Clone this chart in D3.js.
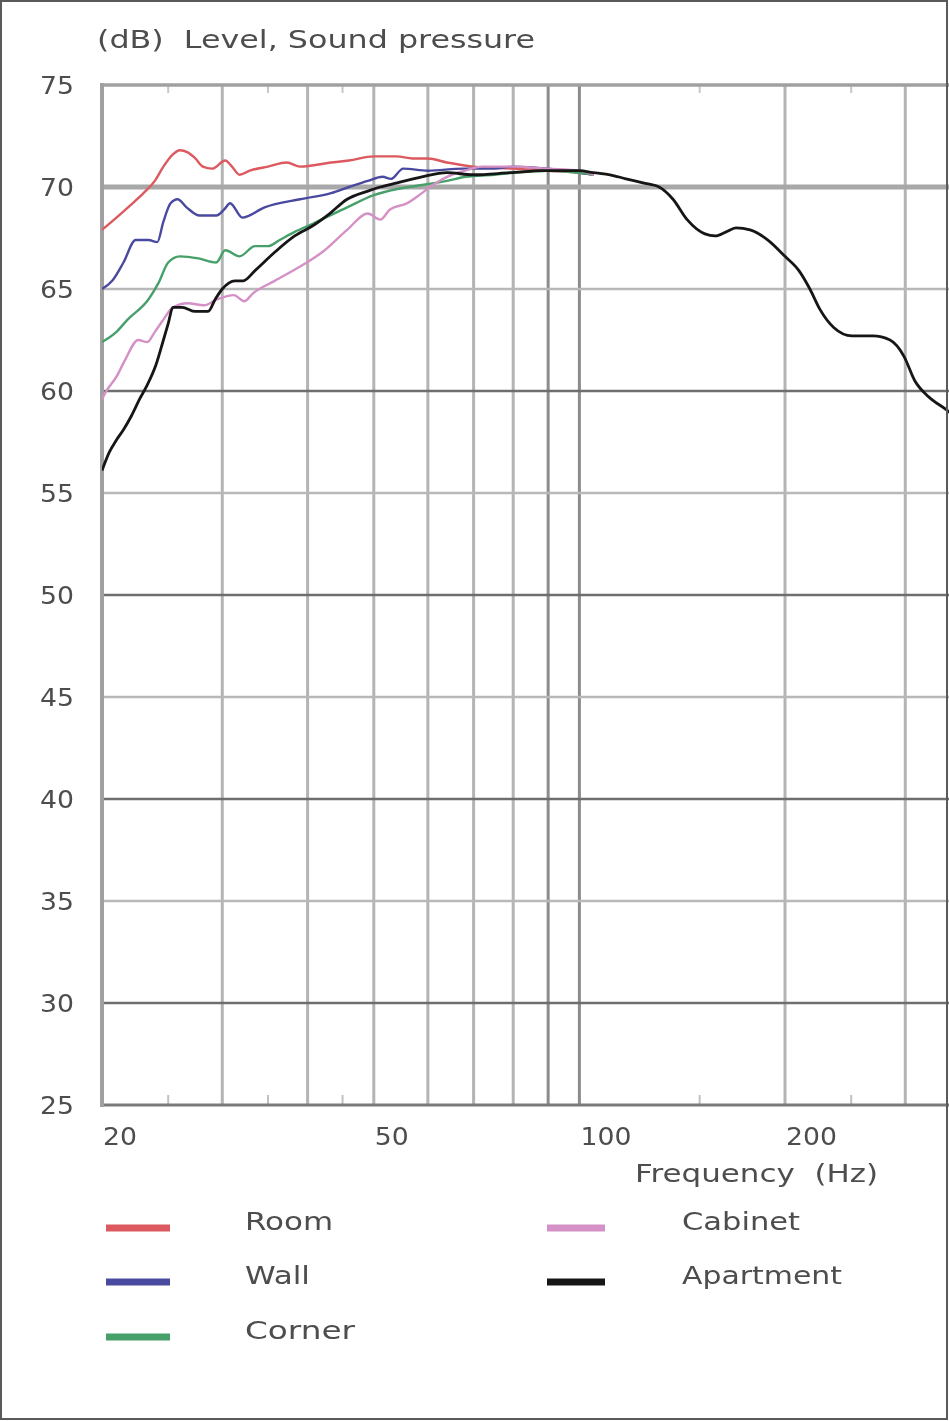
<!DOCTYPE html>
<html>
<head>
<meta charset="utf-8">
<script src="https://cdn.jsdelivr.net/npm/d3@7"></script>
<style>
  body { margin: 0; background: #fff; }
  svg { display: block; }
  text { font-family: "DejaVu Sans", Verdana, sans-serif; fill: #4d4d4d; white-space: pre; }
</style>
</head>
<body>
<div id="vis"></div>
<script>
const width = 949;
const height = 1421;
const margin = { top: 85, right: 0, bottom: 316, left: 102 };

// Tick values / labels
const yTicks = [75, 70, 65, 60, 55, 50, 45, 40, 35, 30, 25];
const xGrid = [30, 40, 50, 60, 70, 80, 90, 100, 200, 300];
const xLabels = [20, 50, 100, 200];
const xMinor = [25, 35, 45, 150, 250];

// Series: [frequency Hz, level dB]
const room = [[20, 67.9], [21, 68.5], [22, 69.1], [23, 69.7], [23.9, 70.3], [24.6, 71.0], [25.4, 71.6],
  [26.0, 71.8], [26.7, 71.7], [27.4, 71.4], [28.1, 71.0], [29.0, 70.9], [30.3, 71.3], [31.0, 71.0],
  [31.8, 70.6], [32.9, 70.8], [35.0, 71.0], [37.3, 71.2], [39.0, 71.0], [43.3, 71.2], [46.0, 71.3],
  [50, 71.5], [54, 71.5], [57, 71.4], [60, 71.4], [64, 71.2], [70, 71.0], [80, 70.9], [90, 70.8],
  [100, 70.7], [105, 70.6]];
const wall = [[20, 65.0], [20.7, 65.4], [21.5, 66.3], [22.4, 67.4], [23.4, 67.4], [24.1, 67.3],
  [24.6, 68.3], [25.2, 69.2], [25.8, 69.4], [26.6, 69.0], [27.8, 68.6], [29.4, 68.6], [30.2, 68.9],
  [30.8, 69.2], [32.1, 68.5], [34.6, 69.0], [39.0, 69.4], [43.3, 69.7], [46.0, 70.0], [49.0, 70.3],
  [51.5, 70.5], [53.0, 70.4], [55.2, 70.9], [60, 70.8], [67.6, 70.9], [75, 70.9], [80, 71.0],
  [90, 70.9], [100, 70.7], [105, 70.6]];
const corner = [[20, 62.4], [21.0, 62.9], [21.8, 63.5], [23.4, 64.5], [24.2, 65.3], [25.0, 66.3],
  [26.0, 66.6], [27.7, 66.5], [29.4, 66.3], [30.3, 66.9], [31.8, 66.6], [33.5, 67.1], [35.0, 67.1],
  [36.4, 67.4], [38.3, 67.8], [40.7, 68.2], [45.7, 69.0], [50, 69.6], [54.1, 69.9], [58.8, 70.1],
  [64, 70.3], [68.2, 70.5], [75, 70.6], [80, 70.7], [90, 70.8], [100, 70.7], [105, 70.6]];
const cabinet = [[20, 59.6], [20.3, 60.0], [21.0, 60.7], [21.6, 61.5], [22.6, 62.5], [23.3, 62.4],
  [23.9, 62.9], [24.6, 63.5], [25.4, 64.1], [26.7, 64.3], [28.2, 64.2], [29.5, 64.5], [31.2, 64.7],
  [32.3, 64.4], [33.3, 64.8], [35.8, 65.4], [39.0, 66.1], [42.0, 66.8], [45.7, 67.9], [49.0, 68.7],
  [51.1, 68.4], [52.8, 68.9], [55.9, 69.2], [58.8, 69.7], [61, 70.1], [64, 70.5], [68, 70.8],
  [72, 71.0], [80, 71.0], [90, 70.9], [100, 70.8], [105, 70.6]];
const apartment = [[20, 56.1], [20.5, 57.0], [21.0, 57.6], [21.5, 58.1], [22.1, 58.8], [22.7, 59.6],
  [23.3, 60.3], [24.0, 61.3], [24.6, 62.5], [25.0, 63.3], [25.4, 64.1], [26.2, 64.1], [27.4, 63.9],
  [28.6, 63.9], [29.3, 64.5], [30.0, 65.0], [31.3, 65.4], [32.2, 65.4], [33.5, 65.9], [35.8, 66.8],
  [38.3, 67.6], [40.7, 68.1], [43.1, 68.7], [45.7, 69.4], [49.0, 69.8], [51.1, 70.0], [54.1, 70.2],
  [58.8, 70.5], [64, 70.7], [69.9, 70.6], [79.1, 70.7], [89, 70.8], [100, 70.8], [104.7, 70.7],
  [110.9, 70.6], [117, 70.4], [123.9, 70.2], [130.8, 70.0], [137.1, 69.4], [143.8, 68.4],
  [152.7, 67.7], [158, 67.6], [164, 67.8], [169.5, 68.0], [177.8, 67.9], [188.8, 67.4], [200, 66.6],
  [209.6, 65.9], [217.5, 65.0], [225, 64.0], [235.9, 63.1], [250.6, 62.7], [269, 62.7], [284.9, 62.5],
  [298.7, 61.7], [309.8, 60.5], [325, 59.7], [344, 59.1], [350, 58.9]];

const seriesNames = ["Room", "Wall", "Corner", "Cabinet", "Apartment"];
const seriesData = [room, wall, corner, cabinet, apartment];
const colors = ["#dc5a5e", "#4a4aa0", "#46a06a", "#d591c6", "#151515"];

// Scales
const xScale = d3.scaleLog().domain([20, 350]).range([margin.left, 951]);
const yScale = d3.scaleLinear().domain([25, 75]).range([height - margin.bottom, margin.top]);
const colorScale = d3.scaleOrdinal().domain(seriesNames).range(colors);

const svg = d3.select("#vis")
  .append("svg")
  .attr("width", width)
  .attr("height", height);

const defs = svg.append("defs");
defs.append("filter").attr("id", "soft")
  .append("feGaussianBlur").attr("stdDeviation", 0.6);
defs.append("clipPath").attr("id", "plot")
  .append("rect")
  .attr("x", margin.left).attr("y", margin.top - 2)
  .attr("width", width - margin.left).attr("height", yScale(25) - margin.top + 4);

const g = svg.append("g").attr("filter", "url(#soft)");

// Grid lines
g.selectAll(".vgrid")
  .data(xGrid)
  .join("line")
  .attr("x1", d => xScale(d)).attr("x2", d => xScale(d))
  .attr("y1", yScale(75)).attr("y2", yScale(25))
  .attr("stroke", d => (d >= 90 && d <= 100) ? "#8c8c8c" : "#b4b4b4")
  .attr("stroke-width", 3);

g.selectAll(".hgrid")
  .data(yTicks.filter(d => d > 25 && d < 75))
  .join("line")
  .attr("x1", margin.left).attr("x2", width)
  .attr("y1", d => yScale(d)).attr("y2", d => yScale(d))
  .attr("stroke", d => d === 70 ? "#a8a8a8" : (d % 10 === 0 ? "#6e6e6e" : "#b8b8b8"))
  .attr("stroke-width", d => d === 70 ? 5 : 2.5);

// Minor ticks top and bottom
g.selectAll(".mtop")
  .data(xMinor)
  .join("line")
  .attr("x1", d => xScale(d)).attr("x2", d => xScale(d))
  .attr("y1", yScale(75)).attr("y2", yScale(75) + 8)
  .attr("stroke", "#c8c8c8").attr("stroke-width", 2);
g.selectAll(".mbot")
  .data(xMinor)
  .join("line")
  .attr("x1", d => xScale(d)).attr("x2", d => xScale(d))
  .attr("y1", yScale(25)).attr("y2", yScale(25) - 10)
  .attr("stroke", "#c0c0c0").attr("stroke-width", 2);

// Frame of plot
g.append("line")
  .attr("x1", margin.left).attr("x2", width)
  .attr("y1", yScale(75)).attr("y2", yScale(75))
  .attr("stroke", "#a0a0a0").attr("stroke-width", 3.5);
g.append("line")
  .attr("x1", margin.left).attr("x2", width)
  .attr("y1", yScale(25)).attr("y2", yScale(25))
  .attr("stroke", "#7a7a7a").attr("stroke-width", 3);
g.append("line")
  .attr("x1", margin.left).attr("x2", margin.left)
  .attr("y1", yScale(75) - 2).attr("y2", yScale(25) + 2)
  .attr("stroke", "#a0a0a0").attr("stroke-width", 4);

// Curves
const line = d3.line()
  .x(d => xScale(d[0]))
  .y(d => yScale(d[1]))
  .curve(d3.curveMonotoneX);

g.append("g")
  .attr("clip-path", "url(#plot)")
  .selectAll("path")
  .data(seriesData)
  .join("path")
  .attr("d", line)
  .attr("fill", "none")
  .attr("stroke", (d, i) => colorScale(seriesNames[i]))
  .attr("stroke-width", (d, i) => i === 4 ? 2.8 : 2.4)
  .attr("stroke-linejoin", "round");

// Y tick labels
g.selectAll(".ylab")
  .data(yTicks)
  .join("text")
  .attr("x", 74)
  .attr("y", d => yScale(d) + 9)
  .attr("text-anchor", "end")
  .attr("font-size", 25)
  .attr("textLength", 34)
  .attr("lengthAdjust", "spacingAndGlyphs")
  .text(d => d);

// X tick labels
g.selectAll(".xlab")
  .data(xLabels)
  .join("text")
  .attr("x", d => xScale(d) + 1)
  .attr("y", 1145)
  .attr("font-size", 25)
  .attr("textLength", d => String(d).length * 17)
  .attr("lengthAdjust", "spacingAndGlyphs")
  .text(d => d);

// Axis titles
g.append("text")
  .attr("x", 97).attr("y", 48)
  .attr("font-size", 24)
  .attr("textLength", 438)
  .attr("lengthAdjust", "spacingAndGlyphs")
  .text("(dB)  Level, Sound pressure");

g.append("text")
  .attr("x", 635).attr("y", 1182)
  .attr("font-size", 24)
  .attr("textLength", 243)
  .attr("lengthAdjust", "spacingAndGlyphs")
  .text("Frequency  (Hz)");

// Legend
const legendPos = [
  { lx: 106, tx: 245, y: 1228, w: 88 },
  { lx: 106, tx: 245, y: 1282, w: 65 },
  { lx: 106, tx: 245, y: 1337, w: 110 },
  { lx: 547, tx: 682, y: 1228, w: 118 },
  { lx: 547, tx: 682, y: 1282, w: 160 }
];

const legend = g.selectAll(".legend")
  .data(seriesNames)
  .join("g");

legend.append("line")
  .attr("x1", (d, i) => legendPos[i].lx)
  .attr("x2", (d, i) => legendPos[i].lx + (i < 3 ? 64 : 58))
  .attr("y1", (d, i) => legendPos[i].y)
  .attr("y2", (d, i) => legendPos[i].y)
  .attr("stroke", d => colorScale(d))
  .attr("stroke-width", 7);

legend.append("text")
  .attr("x", (d, i) => legendPos[i].tx)
  .attr("y", (d, i) => legendPos[i].y + 2)
  .attr("font-size", 24)
  .attr("textLength", (d, i) => legendPos[i].w)
  .attr("lengthAdjust", "spacingAndGlyphs")
  .text(d => d);

// Outer border
svg.append("rect")
  .attr("x", 1).attr("y", 1)
  .attr("width", width - 3).attr("height", height - 3)
  .attr("fill", "none")
  .attr("stroke", "#5a5a5a")
  .attr("stroke-width", 2);
</script>
</body>
</html>
